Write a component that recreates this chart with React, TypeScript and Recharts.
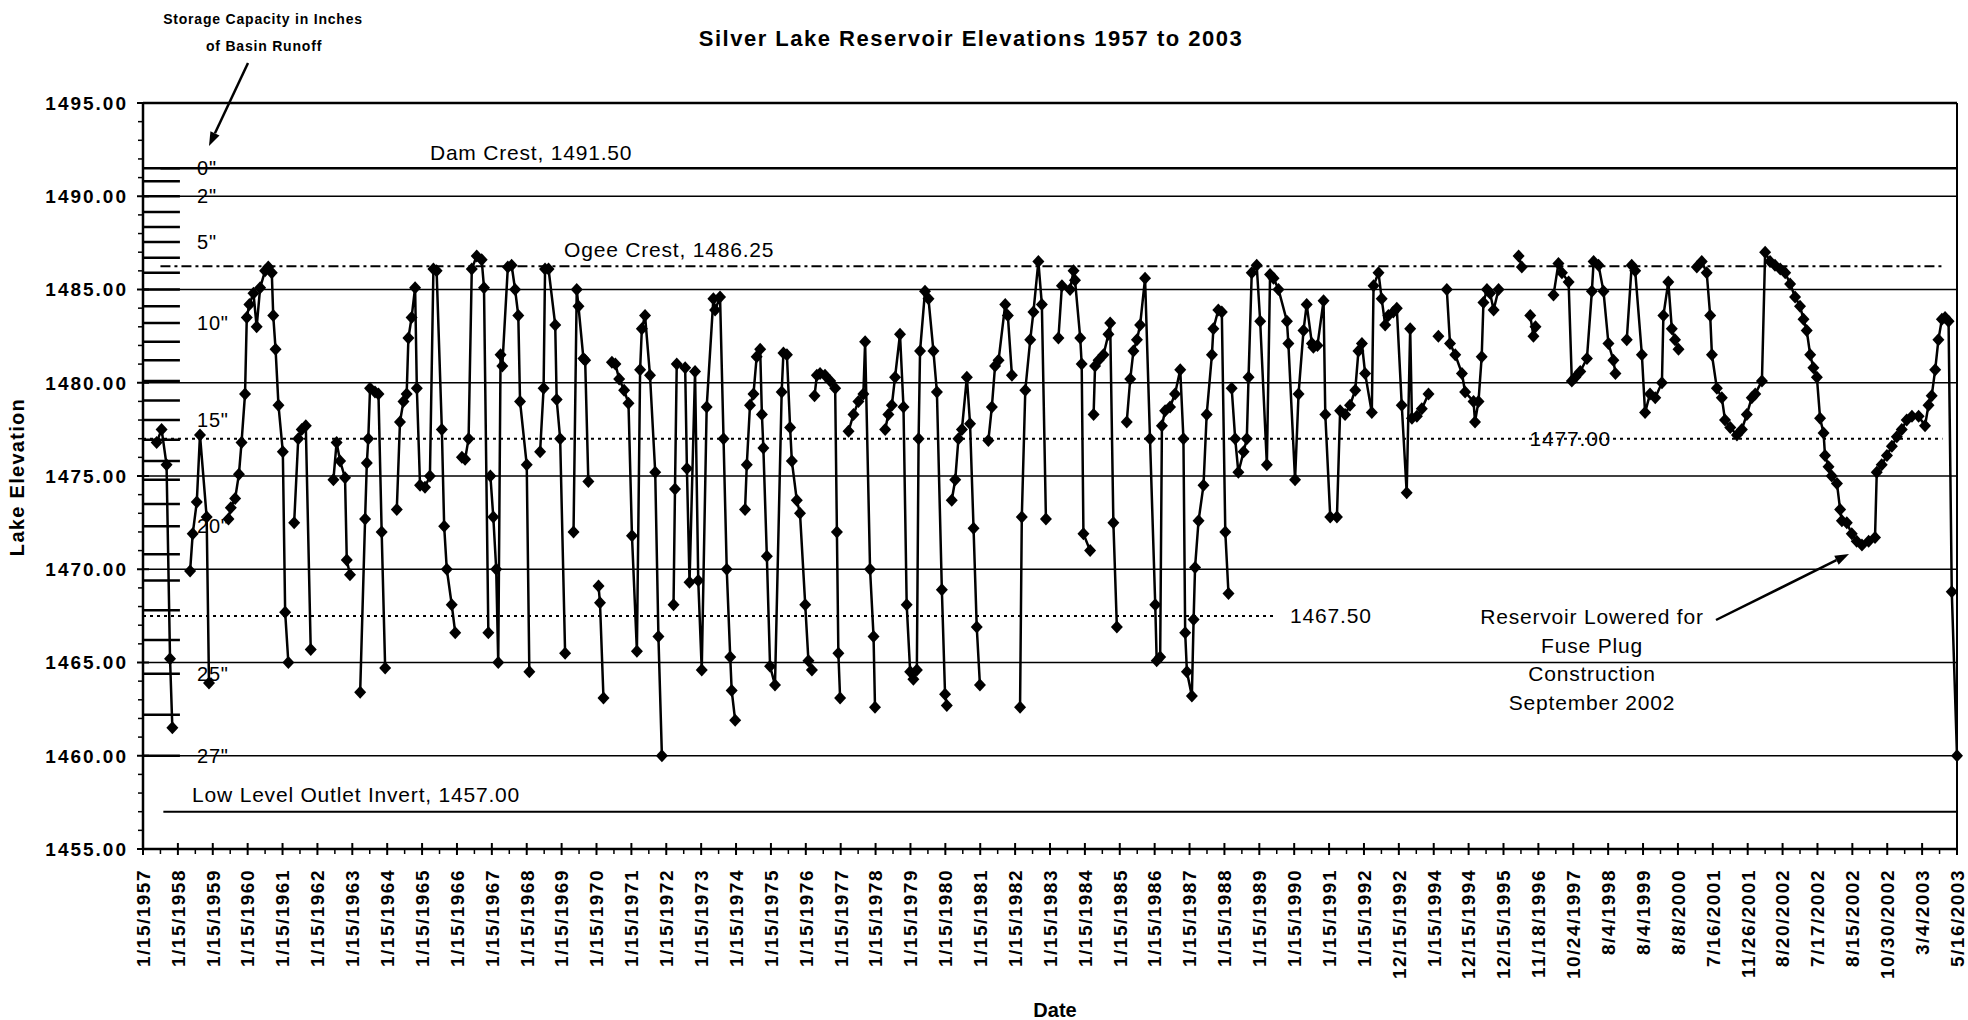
import React from 'react';
import { LineChart, Line, XAxis, YAxis, ReferenceLine, ReferenceDot } from 'recharts';

const FONT = "'Liberation Sans', Arial, Helvetica, sans-serif";

// tick labels of the category axis, one every 12 slots
const xLabels = [
  '1/15/1957', '1/15/1958', '1/15/1959', '1/15/1960', '1/15/1961', '1/15/1962', '1/15/1963', '1/15/1964',
  '1/15/1965', '1/15/1966', '1/15/1967', '1/15/1968', '1/15/1969', '1/15/1970', '1/15/1971', '1/15/1972',
  '1/15/1973', '1/15/1974', '1/15/1975', '1/15/1976', '1/15/1977', '1/15/1978', '1/15/1979', '1/15/1980',
  '1/15/1981', '1/15/1982', '1/15/1983', '1/15/1984', '1/15/1985', '1/15/1986', '1/15/1987', '1/15/1988',
  '1/15/1989', '1/15/1990', '1/15/1991', '1/15/1992', '12/15/1992', '1/15/1994', '12/15/1994', '12/15/1995',
  '11/18/1996', '10/24/1997', '8/4/1998', '8/4/1999', '8/8/2000', '7/16/2001', '11/26/2001', '8/20/2002',
  '7/17/2002', '8/15/2002', '10/30/2002', '3/4/2003', '5/16/2003',
];

const yTicks = [1455, 1460, 1465, 1470, 1475, 1480, 1485, 1490, 1495];
const gridElevations = [1460, 1465, 1470, 1475, 1480, 1485, 1490, 1495];

// storage capacity scale (inches of basin runoff) -> elevation
const capacityInches = [0, 1, 2, 3, 4, 5, 6, 7, 8, 9, 10, 11, 12, 13, 14, 15, 16, 17, 18, 19, 20, 21, 22, 23, 24, 25, 26, 27];
const capacityElevations = [
  1491.5, 1490.8, 1490.0, 1489.15, 1488.35, 1487.55, 1486.7, 1485.9, 1485.0, 1484.1, 1483.2, 1482.2, 1481.2, 1480.1,
  1479.05, 1478.0, 1476.95, 1475.8, 1474.8, 1473.5, 1472.3, 1470.8, 1469.4, 1467.8, 1466.2, 1464.4, 1462.2, 1460.0,
];
const capacityLabelled = [0, 2, 5, 10, 15, 20, 25, 27];

// [slot, elevation]; null = no reading (line break)
const readings1950s: [number, number | null][] = [
  [4.7, 1476.8], [6.4, 1477.5], [8.1, 1475.6], [9.3, 1465.2], [10.1, 1461.5], [13, null],
  [16.2, 1469.9], [17.1, 1471.9], [18.5, 1473.6], [19.6, 1477.2], [21.9, 1472.8], [22.7, 1463.9], [26, null],
  [29.4, 1472.7], [30.2, 1473.3], [31.7, 1473.8], [33.0, 1475.1], [33.9, 1476.8], [35.1, 1479.4], [35.7, 1483.5],
];
const readings1960s: [number, number | null][] = [
  [36.6, 1484.2], [38.0, 1484.8], [39.1, 1483.0], [40.3, 1485.1], [42.0, 1486.0], [43.1, 1486.2], [44.3, 1485.9],
  [44.8, 1483.6], [45.6, 1481.8], [46.6, 1478.8], [48.1, 1476.3], [48.9, 1467.7], [50.0, 1465.0], [51, null],
  [52.0, 1472.5], [53.4, 1477.0], [54.6, 1477.5], [56.0, 1477.7], [57.7, 1465.7], [60, null],
  [65.5, 1474.8], [66.6, 1476.8], [67.8, 1475.8], [69.5, 1474.9], [70.1, 1470.5], [71.2, 1469.7], [73, null],
  [74.7, 1463.4], [76.4, 1472.7], [77.0, 1475.7], [77.5, 1477.0], [78.1, 1479.7], [79.8, 1479.5], [81.0, 1479.4],
  [82.1, 1472.0], [83.3, 1464.7], [85, null],
  [87.3, 1473.2], [88.4, 1477.9], [89.6, 1479.0], [90.7, 1479.4], [91.3, 1482.4], [92.4, 1483.5], [93.6, 1485.1],
  [94.2, 1479.7], [95.3, 1474.5], [97.0, 1474.4], [98.7, 1475.0], [99.9, 1486.1], [101.0, 1486.0], [102.8, 1477.5],
  [103.6, 1472.3], [104.5, 1470.0], [106.2, 1468.1], [107.4, 1466.6], [108.5, null],
  [109.7, 1476.0], [110.8, 1475.9], [112.0, 1477.0], [113.1, 1486.1], [114.8, 1486.8], [116.5, 1486.6], [117.3, 1485.1],
  [118.8, 1466.6], [119.1, null],
  [119.5, 1475.0], [120.5, 1472.8], [121.5, 1470.0], [122.2, 1465.0], [123.0, 1481.5], [123.6, 1480.9], [125.5, 1486.2],
  [126.8, 1486.3], [128.0, 1485.0], [129.1, 1483.6], [129.7, 1479.0], [132.0, 1475.6], [132.9, 1464.5], [134.5, null],
  [136.6, 1476.3], [137.8, 1479.7], [138.3, 1486.1], [139.5, 1486.1], [141.8, 1483.1], [142.3, 1479.1], [143.5, 1477.0],
  [145.2, 1465.5], [146.5, null],
  [148.1, 1472.0], [149.2, 1485.0], [149.8, 1484.1], [151.5, 1481.3], [152.1, 1481.2], [153.2, 1474.7], [155, null],
];
const readings1970s: [number, number | null][] = [
  [156.7, 1469.1], [157.2, 1468.2], [158.4, 1463.1], [160, null],
  [161.3, 1481.1], [162.5, 1481.0], [163.8, 1480.2], [165.5, 1479.6], [167.0, 1478.9], [168.2, 1471.8], [169.9, 1465.6],
  [171.0, 1480.7], [171.6, 1482.9], [172.7, 1483.6], [174.4, 1480.4], [176.2, 1475.2], [177.3, 1466.4], [178.5, 1460.0],
  [180, null],
  [182.5, 1468.1], [183.0, 1474.3], [183.6, 1481.0], [186.5, 1480.8], [187.1, 1475.4], [188.0, 1469.3], [189.9, 1480.6],
  [191.0, 1469.4], [192.2, 1464.6], [193.9, 1478.7], [196.2, 1484.5], [196.8, 1483.9], [198.5, 1484.6], [199.7, 1477.0],
  [200.8, 1470.0], [202.0, 1465.3], [202.5, 1463.5], [203.7, 1461.9], [205, null],
  [207.1, 1473.2], [207.7, 1475.6], [208.8, 1478.8], [210.0, 1479.4], [211.1, 1481.4], [212.3, 1481.8], [212.9, 1478.3],
  [213.4, 1476.5], [214.6, 1470.7], [215.7, 1464.8], [217.4, 1463.8], [219.7, 1479.5], [220.3, 1481.6], [221.5, 1481.5],
  [222.6, 1477.6], [223.2, 1475.8], [224.9, 1473.7], [226.0, 1473.0], [227.8, 1468.1], [228.9, 1465.1], [230.1, 1464.6],
  [230.6, null],
  [231.0, 1479.3], [231.8, 1480.4], [232.9, 1480.5], [234.6, 1480.4], [236.4, 1480.1], [238.1, 1479.7], [238.7, 1472.0],
  [239.2, 1465.5], [239.8, 1463.1], [241, null],
  [242.7, 1477.4], [244.4, 1478.3], [246.1, 1479.0], [247.8, 1479.4], [248.4, 1482.2], [250.1, 1470.0], [251.3, 1466.4],
  [251.8, 1462.6], [253.5, null],
  [255.3, 1477.5], [256.4, 1478.3], [257.6, 1478.8], [258.7, 1480.3], [260.4, 1482.6], [261.6, 1478.7], [262.7, 1468.1],
  [263.9, 1464.5], [265.0, 1464.1], [266.2, 1464.6], [266.8, 1477.0], [267.3, 1481.7], [269.0, 1484.9], [270.2, 1484.5],
  [271.9, 1481.7], [273.1, 1479.5], [274.8, 1468.9], [275.9, 1463.3], [276.5, 1462.7], [277.3, null],
];
const readings1980s: [number, number | null][] = [
  [278.2, 1473.7], [279.4, 1474.8], [280.5, 1477.0], [281.7, 1477.5], [283.4, 1480.3], [284.5, 1477.8], [285.7, 1472.2],
  [286.8, 1466.9], [287.9, 1463.8], [289.5, null],
  [290.8, 1476.9], [292.0, 1478.7], [293.1, 1480.9], [294.3, 1481.2], [296.6, 1484.2], [297.5, 1483.6], [298.9, 1480.4],
  [300.5, null],
  [301.7, 1462.6], [302.3, 1472.8], [303.5, 1479.6], [305.2, 1482.3], [306.3, 1483.8], [308.0, 1486.5], [309.2, 1484.2],
  [310.6, 1472.7], [312, null],
  [314.9, 1482.4], [316.1, 1485.2], [318.9, 1485.0], [320.1, 1486.0], [320.6, 1485.5], [322.4, 1482.4], [322.9, 1481.0],
  [323.5, 1471.9], [325.8, 1471.0], [326.4, null],
  [327.0, 1478.3], [327.5, 1480.9], [328.7, 1481.2], [330.4, 1481.5], [332.1, 1482.6], [332.7, 1483.2], [333.8, 1472.5],
  [335.0, 1466.9], [336.5, null],
  [338.4, 1477.9], [339.6, 1480.2], [340.7, 1481.7], [341.9, 1482.3], [343.0, 1483.1], [344.7, 1485.6], [346.4, 1477.0],
  [348.2, 1468.1], [348.7, 1465.1], [349.9, 1465.3], [350.5, 1477.7], [351.6, 1478.5], [353.3, 1478.7], [355.0, 1479.4],
  [356.8, 1480.7], [357.9, 1477.0], [358.5, 1466.6], [359.1, 1464.5], [360.8, 1463.2], [361.4, 1467.3], [361.9, 1470.1],
  [363.1, 1472.6], [364.8, 1474.5], [365.9, 1478.3], [367.7, 1481.5], [368.2, 1482.9], [369.9, 1483.9], [371.1, 1483.8],
  [372.3, 1472.0], [373.4, 1468.7], [374.0, null],
  [374.5, 1479.7], [375.7, 1477.0], [376.8, 1475.2], [378.6, 1476.3], [379.7, 1477.0], [380.3, 1480.3], [381.4, 1485.9],
  [383.1, 1486.3], [384.3, 1483.3], [386.6, 1475.6], [387.7, 1485.8], [388.9, 1485.6], [390.6, 1485.0], [393.5, 1483.3],
  [394.0, 1482.1], [396.3, 1474.8],
];
const readings1990s: [number, number | null][] = [
  [397.5, 1479.4], [399.2, 1482.8], [400.3, 1484.2], [402.1, 1482.1], [402.6, 1481.9], [404.0, 1482.0], [406.1, 1484.4],
  [406.7, 1478.3], [408.4, 1472.8], [410.7, 1472.8], [411.8, 1478.5], [413.5, 1478.3], [415.2, 1478.8], [417.0, 1479.6],
  [418.1, 1481.7], [419.3, 1482.1], [420.4, 1480.5], [422.7, 1478.4], [423.3, 1485.2], [425.0, 1485.9], [426.1, 1484.5],
  [427.3, 1483.1], [428.4, 1483.6], [430.1, 1483.8], [431.3, 1484.0], [433.0, 1478.8], [434.7, 1474.1], [435.9, 1482.9],
  [436.5, 1478.1], [438.2, 1478.2], [439.9, 1478.6], [442.2, 1479.4], [443.5, null],
  [445.6, 1482.5], [446.5, null],
  [448.5, 1485.0], [449.6, 1482.1], [451.4, 1481.5], [453.7, 1480.5], [454.8, 1479.5], [457.7, 1479.0], [458.2, 1477.9],
  [459.4, 1479.0], [460.5, 1481.4], [461.1, 1484.3], [462.3, 1485.0], [463.4, 1484.8], [464.6, 1483.9], [466.3, 1485.0],
  [468, null],
  [473.2, 1486.8], [474.3, 1486.2], [475.5, null], [477.2, 1483.6], [478.3, 1482.5], [479.0, 1483.0], [480.5, null],
  [485.2, 1484.7], [486.9, 1486.4], [488.1, 1485.9], [490.4, 1485.4], [491.5, 1480.1], [492.7, 1480.3], [494.4, 1480.6],
  [496.7, 1481.3], [498.4, 1484.9], [499.0, 1486.5], [500.7, 1486.3], [502.4, 1484.9], [504.1, 1482.1], [505.8, 1481.2],
  [506.5, 1480.5], [507.5, null],
  [510.4, 1482.3], [512.1, 1486.3], [513.3, 1486.0], [515.6, 1481.5], [516.7, 1478.4], [518.4, 1479.4], [520.2, 1479.2],
  [522.5, 1480.0], [523.0, 1483.6], [524.7, 1485.4], [525.9, 1482.9], [527.0, 1482.3], [528.2, 1481.8], [530, null],
];
const readings2000s: [number, number | null][] = [
  [534.5, 1486.2], [536.2, 1486.5], [537.9, 1485.9], [539.1, 1483.6], [539.7, 1481.5], [541.4, 1479.7], [543.1, 1479.2],
  [544.2, 1478.0], [546.0, 1477.6], [548.3, 1477.2], [550.0, 1477.5], [551.7, 1478.3], [553.4, 1479.2], [554.6, 1479.4],
  [556.9, 1480.1], [558.0, 1487.0], [559.7, 1486.5], [561.4, 1486.3], [563.2, 1486.1], [564.9, 1485.9], [566.6, 1485.3],
  [568.3, 1484.6], [570.0, 1484.1], [571.2, 1483.4], [572.3, 1482.8], [573.5, 1481.5], [574.6, 1480.8], [575.8, 1480.3],
  [576.9, 1478.1], [578.1, 1477.3], [578.6, 1476.1], [579.8, 1475.5], [580.9, 1475.0], [582.7, 1474.6], [583.8, 1473.2],
  [584.4, 1472.6], [586.1, 1472.5], [587.8, 1471.9], [589.5, 1471.5], [591.3, 1471.3], [593.6, 1471.5], [595.8, 1471.7],
  [596.4, 1475.2], [598.1, 1475.6], [599.9, 1476.1], [601.6, 1476.6], [603.3, 1477.1], [605.0, 1477.5], [606.7, 1478.0],
  [608.5, 1478.2], [610.8, 1478.2], [613.0, 1477.7], [614.2, 1478.8], [615.3, 1479.3], [616.5, 1480.7], [617.6, 1482.3],
  [618.8, 1483.4], [619.9, 1483.5], [621.1, 1483.3], [622.2, 1468.8], [624, 1460.0],
];

const data = [...readings1950s, ...readings1960s, ...readings1970s, ...readings1980s, ...readings1990s, ...readings2000s]
  .map(([t, v]) => ({ t, v }));

const lastSlot = (xLabels.length - 1) * 12;
const xTicks = Array.from({ length: lastSlot / 6 + 1 }, (_, i) => i * 6);
const elevTicks = Array.from({ length: 41 }, (_, i) => 1455 + i);
const capTickSlots = 12.7; // length of the capacity scale marks, in axis slots

const Diamond = (p: any) => {
  const { cx, cy, payload, index } = p;
  if (!payload || payload.v == null || cx == null || cy == null) return <g key={`d${index}`} />;
  return <path key={`d${index}`} d={`M${cx},${cy - 6.5}L${cx + 6},${cy}L${cx},${cy + 6.5}L${cx - 6},${cy}Z`} fill="#000" />;
};

const ElevTick = (p: any) => {
  const { x, y, payload } = p;
  const v = payload.value;
  if (!yTicks.includes(v)) {
    return <line x1={x - 5} x2={x} y1={y} y2={y} stroke="#000" strokeWidth={1.5} />;
  }
  return (
    <g>
      <line x1={x - 6} x2={x + 6} y1={y} y2={y} stroke="#000" strokeWidth={2} />
      <text x={x - 15} y={y} dy="0.36em" textAnchor="end" fontFamily={FONT} fontWeight="bold" fontSize={19}
        letterSpacing={2} fill="#000">{v.toFixed(2)}</text>
    </g>
  );
};

const DateTick = (p: any) => {
  const { x, y, payload } = p;
  const t = payload.value;
  if (t % 12 !== 0) return <line x1={x} x2={x} y1={y} y2={y + 5} stroke="#000" strokeWidth={1.5} />;
  return (
    <g>
      <line x1={x} x2={x} y1={y - 6} y2={y + 6} stroke="#000" strokeWidth={2} />
      <text transform={`translate(${x},${y + 20}) rotate(-90)`} dy="0.36em" textAnchor="end" fontFamily={FONT}
        fontWeight="bold" fontSize={19} letterSpacing={1.5} fill="#000">{xLabels[t / 12]}</text>
    </g>
  );
};

const lineLabel = (text: string, anchor: string, dx: number, dy: number, size = 21) => (p: any) => (
  <text x={p.cx + dx} y={p.cy + dy} textAnchor={anchor} fontFamily={FONT} fontSize={size} letterSpacing={0.8}
    fill="#000">{text}</text>
);

const Arrow = ({ x1, y1, x2, y2 }: { x1: number; y1: number; x2: number; y2: number }) => {
  const a = Math.atan2(y2 - y1, x2 - x1);
  const len = 14, w = 5;
  const bx = x2 - len * Math.cos(a), by = y2 - len * Math.sin(a);
  const pts = `${x2},${y2} ${bx + w * Math.sin(a)},${by - w * Math.cos(a)} ${bx - w * Math.sin(a)},${by + w * Math.cos(a)}`;
  return (
    <g>
      <line x1={x1} y1={y1} x2={bx} y2={by} stroke="#000" strokeWidth={2.5} />
      <polygon points={pts} fill="#000" />
    </g>
  );
};

export default function App() {
  return (
    <div style={{ position: 'absolute', left: 0, top: 0, width: 1968, height: 1020, background: '#fff' }}>
      <LineChart width={1968} height={1020} data={data} margin={{ top: 103, right: 11, bottom: 0, left: 0 }}>
        <XAxis dataKey="t" type="number" domain={[0, lastSlot]} ticks={xTicks} interval={0} height={171}
          tickSize={0} tickMargin={0} tickLine={false} tick={DateTick} axisLine={{ stroke: '#000', strokeWidth: 2.5 }} />
        <YAxis domain={[1455, 1495]} ticks={elevTicks} interval={0} width={143} tickSize={0} tickMargin={0}
          tickLine={false} tick={ElevTick} axisLine={{ stroke: '#000', strokeWidth: 2.5 }} />

        {gridElevations.map((e) => (
          <ReferenceLine key={e} y={e} stroke="#000" strokeWidth={e === 1495 ? 2.5 : 1.5} />
        ))}
        <ReferenceLine x={lastSlot} stroke="#000" strokeWidth={2} />
        <ReferenceLine segment={[{ x: 6, y: 1491.5 }, { x: lastSlot, y: 1491.5 }]} stroke="#000" strokeWidth={2.5} />
        <ReferenceLine segment={[{ x: 6, y: 1486.25 }, { x: 619, y: 1486.25 }]} stroke="#000" strokeWidth={2}
          strokeDasharray="10 4 3 4" />
        <ReferenceLine segment={[{ x: 0, y: 1477 }, { x: 619, y: 1477 }]} stroke="#000" strokeWidth={2}
          strokeDasharray="3 4" />
        <ReferenceLine segment={[{ x: 0, y: 1467.5 }, { x: 390, y: 1467.5 }]} stroke="#000" strokeWidth={2}
          strokeDasharray="3 4" />
        <ReferenceLine segment={[{ x: 7, y: 1457 }, { x: lastSlot, y: 1457 }]} stroke="#000" strokeWidth={2} />

        {/* storage capacity scale */}
        {capacityElevations.map((e) => (
          <ReferenceLine key={`cap${e}`} segment={[{ x: 0, y: e }, { x: capTickSlots, y: e }]} stroke="#000" strokeWidth={2.5} />
        ))}
        {capacityLabelled.map((inch) => (
          <ReferenceDot key={`capl${inch}`} x={0} y={capacityElevations[capacityInches.indexOf(inch)]} r={0}
            shape={lineLabel(`${inch}"`, 'start', 54, 7, 20)} />
        ))}

        <ReferenceDot x={133.5} y={1491.5} r={0} shape={lineLabel('Dam Crest, 1491.50', 'middle', 0, -8)} />
        <ReferenceDot x={181} y={1486.25} r={0} shape={lineLabel('Ogee Crest, 1486.25', 'middle', 0, -9)} />
        <ReferenceDot x={491} y={1477} r={0} shape={lineLabel('1477.00', 'middle', 0, 7)} />
        <ReferenceDot x={394.6} y={1467.5} r={0} shape={lineLabel('1467.50', 'start', 0, 7)} />
        <ReferenceDot x={73.3} y={1457} r={0} shape={lineLabel('Low Level Outlet Invert, 1457.00', 'middle', 0, -10)} />

        <Line dataKey="v" stroke="#000" strokeWidth={2.5} dot={Diamond} activeDot={false}
          connectNulls={false} isAnimationActive={false} />
      </LineChart>

      <svg width={1968} height={1020} style={{ position: 'absolute', left: 0, top: 0, pointerEvents: 'none' }}>
        <text x={971} y={46} textAnchor="middle" fontFamily={FONT} fontWeight="bold" fontSize={22} letterSpacing={1.5}>
          Silver Lake Reservoir Elevations 1957 to 2003
        </text>
        <text x={263} y={24} textAnchor="middle" fontFamily={FONT} fontWeight="bold" fontSize={14} letterSpacing={0.8}>
          Storage Capacity in Inches
        </text>
        <text x={264} y={51} textAnchor="middle" fontFamily={FONT} fontWeight="bold" fontSize={14} letterSpacing={0.8}>
          of Basin Runoff
        </text>
        <Arrow x1={248} y1={63} x2={209} y2={146} />
        <text transform="translate(24,477) rotate(-90)" textAnchor="middle" fontFamily={FONT} fontWeight="bold"
          fontSize={20} letterSpacing={1.3}>Lake Elevation</text>
        <text x={1055} y={1017} textAnchor="middle" fontFamily={FONT} fontWeight="bold" fontSize={20}>Date</text>
        {['Reservoir Lowered for', 'Fuse Plug', 'Construction', 'September 2002'].map((s, i) => (
          <text key={s} x={1592} y={624 + i * 28.5} textAnchor="middle" fontFamily={FONT} fontSize={21} letterSpacing={0.8}>{s}</text>
        ))}
        <Arrow x1={1716} y1={620} x2={1849} y2={554} />
      </svg>
    </div>
  );
}
